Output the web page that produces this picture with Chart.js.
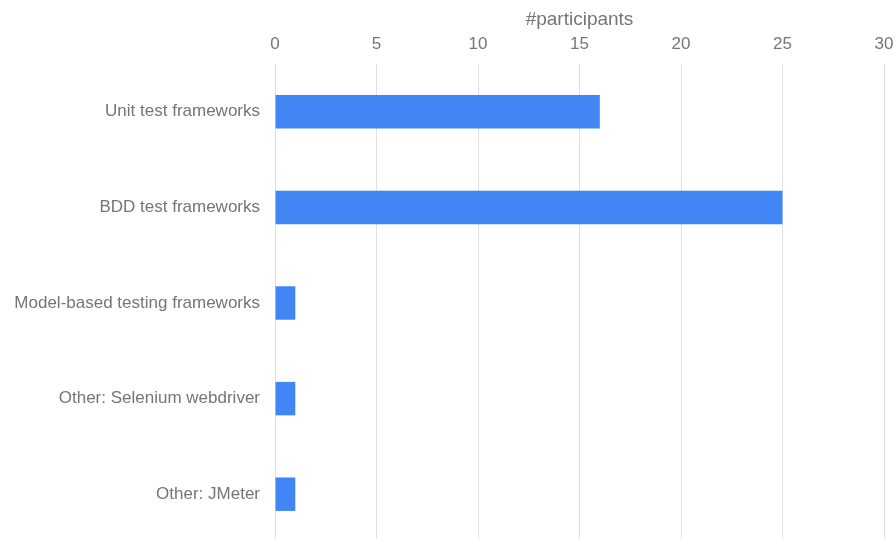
<!DOCTYPE html>
<html>
<head>
<meta charset="utf-8">
<script src="https://cdn.jsdelivr.net/npm/chart.js@4"></script>
<style>
  html, body { margin: 0; padding: 0; background: #fff; overflow: hidden; }
  #wrap { width: 896px; height: 542px; }
</style>
</head>
<body>
<div id="wrap"><canvas id="c" width="896" height="542"></canvas></div>
<script>
const categories = [
  "Unit test frameworks",
  "BDD test frameworks",
  "Model-based testing frameworks",
  "Other: Selenium webdriver",
  "Other: JMeter"
];
const participants = [16, 25, 1, 1, 1];
const xTicks = [0, 5, 10, 15, 20, 25, 30];

const FONT = "'Liberation Sans', Arial, sans-serif";

new Chart(document.getElementById('c'), {
  type: 'bar',
  data: {
    labels: categories,
    datasets: [{
      data: participants,
      backgroundColor: '#4285F4',
      borderWidth: 0,
      categoryPercentage: 1,
      barPercentage: 0.35
    }]
  },
  options: {
    indexAxis: 'y',
    responsive: false,
    animation: false,
    layout: { autoPadding: false, padding: { top: 0, right: 12, bottom: 0, left: 0 } },
    plugins: { legend: { display: false }, tooltip: { enabled: false } },
    scales: {
      x: {
        position: 'top',
        min: xTicks[0],
        max: xTicks[xTicks.length - 1],
        afterBuildTicks: s => { s.ticks = xTicks.map(v => ({ value: v })); },
        afterFit: s => { s.height = 64; s.paddingLeft = 0; s.paddingRight = 0; },
        grid: { color: '#e0e0e0', drawTicks: false, lineWidth: 1 },
        border: { display: false },
        ticks: { color: '#757575', font: { family: FONT, size: 17 }, padding: 9, maxRotation: 0 },
        title: { display: true, text: '#participants', color: '#757575', font: { family: FONT, size: 19 }, padding: { top: 8, bottom: 0 } }
      },
      y: {
        afterFit: s => { s.width = 275; s.paddingTop = 0; s.paddingBottom = 0; },
        grid: { display: false, drawTicks: false },
        border: { display: false },
        ticks: { color: '#757575', font: { family: FONT, size: 17 }, padding: 15 }
      }
    }
  }
});
</script>
</body>
</html>
